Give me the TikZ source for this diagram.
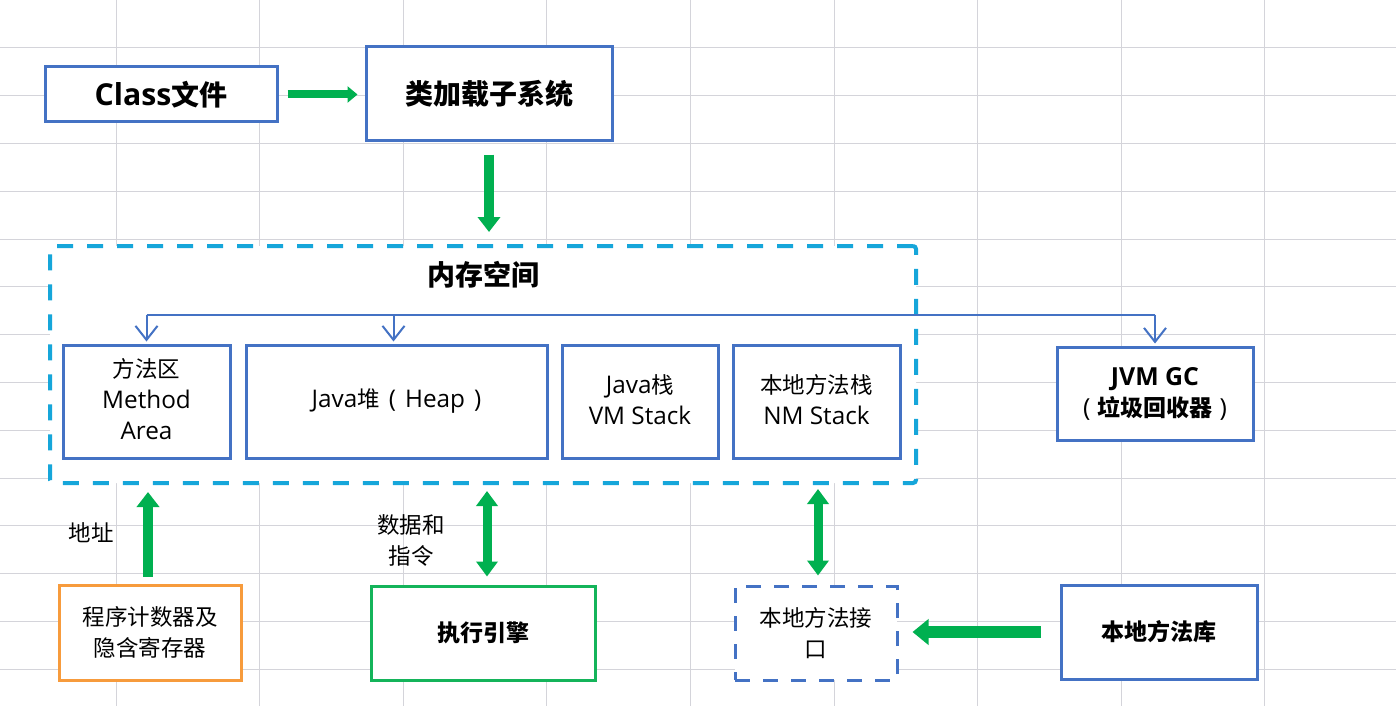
\documentclass[tikz,border=0pt]{standalone}
\usepackage{fontspec}
\setmainfont{Noto Sans CJK SC}
\newfontfamily\lat{Open Sans}[Scale=1.08]
\usetikzlibrary{arrows.meta,calc}
\definecolor{bxblue}{RGB}{68,114,196}
\definecolor{memcyan}{RGB}{22,166,218}
\definecolor{agreen}{RGB}{0,176,80}
\definecolor{bgreen}{RGB}{20,180,90}
\definecolor{orng}{RGB}{247,155,60}
\definecolor{gridc}{RGB}{212,212,218}
\begin{document}
\begin{tikzpicture}[x=1pt,y=-1pt,
  gridline/.style={draw=gridc, line width=1pt},
  box/.style={rectangle, draw=bxblue, line width=3pt, fill=white, inner sep=0pt, align=center},
  membox/.style={box, minimum height=113pt, font=\fontsize{22.5}{31}\selectfont},
  bigtxt/.style={font=\bfseries\fontsize{28}{32}\selectfont},
  midbold/.style={font=\bfseries\fontsize{23}{31}\selectfont},
  smalltxt/.style={font=\fontsize{22.5}{31}\selectfont},
  bus/.style={draw=bxblue, line width=2pt},
  busarrow/.style={bus, -{Straight Barb[length=14pt,width=22pt]}, shorten >=2pt},
  gthin/.style={draw=agreen, line width=8pt, -{Triangle[length=10pt,width=16pt]}},
  gmed/.style={draw=agreen, line width=10pt, -{Triangle[length=15pt,width=22pt]}},
  gdouble/.style={draw=agreen, line width=9pt, {Triangle[length=15pt,width=21pt]}-{Triangle[length=15pt,width=21pt]}},
  gthick/.style={draw=agreen, line width=12pt, -{Triangle[length=16pt,width=25pt]}},
  lbl/.style={inner sep=0pt, align=center, font=\fontsize{22.5}{31}\selectfont}
]
\useasboundingbox (0,0) rectangle (1396,706);
\fill[white] (0,0) rectangle (1396,706);
% spreadsheet grid
\foreach \i in {0,...,8} \draw[gridline] ({116+143.6*\i},0) -- ({116+143.6*\i},706);
\foreach \j in {1,...,14} \draw[gridline] (0,{47.8*\j}) -- (1396,{47.8*\j});

% top row
\node[box, minimum width=232pt, minimum height=55pt, bigtxt] (cls) at (161,94.5) {{\lat\bfseries Class}文件};
\node[box, minimum width=246pt, minimum height=93pt, bigtxt] (cl) at (489,93.5) {类加载子系统};

% memory space
\node[rectangle, draw=memcyan, line width=4pt, dash pattern=on 16pt off 14pt, fill=white,
      rounded corners=3pt, minimum width=866pt, minimum height=237pt, inner sep=0pt] (mem) at (483,364.5) {};
\node[font=\bfseries\fontsize{28}{32}\selectfont, inner sep=0pt] (title) at (483,275) {内存空间};

\node[membox, minimum width=167pt] (ma) at (146.5,401.5) {方法区\\{\lat Method}\\{\lat Area}\vspace{4pt}};
\node[membox, minimum width=301pt] (heap) at (396.5,401.5) {{\lat Java}堆\hspace{9pt}{\lat (}\hspace{9pt}{\lat Heap}\hspace{9pt}{\lat )}};
\node[membox, minimum width=156pt] (jst) at (640,401.5) {{\lat Java}栈\\{\lat VM Stack}\vspace{3pt}};
\node[membox, minimum width=167pt] (nst) at (816.5,401.5) {本地方法栈\\{\lat NM Stack}\vspace{3pt}};

\node[box, minimum width=196pt, minimum height=93pt, midbold] (gc) at (1155,393.5) {{\lat\bfseries JVM GC}\\{\lat\mdseries (}\hspace{7pt}垃圾回收器\hspace{7pt}{\lat\mdseries )}};

% bus connector
\draw[bus] ($(ma.north)+(0,-29)$) coordinate (bL) -- (bL -| gc.north) coordinate (bR);
\draw[busarrow] (bL) -- (ma.north);
\draw[busarrow] ($(bL -| heap.north)+(-3,0)$) -- ($(heap.north)+(-3,0)$);
\draw[busarrow] (bR) -- (gc.north);

% bottom row
\node[box, draw=orng, minimum width=182pt, minimum height=95pt, smalltxt] (pc) at (150,632.5) {程序计数器及\\隐含寄存器};
\node[box, draw=bgreen, minimum width=224pt, minimum height=94pt, midbold] (ee) at (483,633) {执行引擎};
\node[box, dash pattern=on 15pt off 13pt, minimum width=162pt, minimum height=94pt, smalltxt] (ni) at (816,633) {本地方法接\\口};
\node[box, minimum width=196pt, minimum height=94pt, midbold] (nl) at (1159,632) {本地方法库};

\node[lbl] (addr) at (91,533) {地址};
\node[lbl] (data) at (411,540) {数据和\\指令};

% green arrows
\draw[gthin, shorten <=9pt, shorten >=7pt] (cls.east) -- (cls.east -| cl.west);
\draw[gmed, shorten <=13pt, shorten >=12pt] (cl.south) -- (cl.south |- mem.north);
\draw[gmed, shorten <=7pt, shorten >=7pt] ($(pc.north)+(-2,0)$) -- ($(pc.north |- mem.south)+(-2,0)$);
\draw[gdouble, shorten <=8pt, shorten >=6pt] ($(ee.north)+(4,0)$) -- ($(ee.north |- mem.south)+(4,0)$);
\draw[gdouble, shorten <=9pt, shorten >=4pt] ($(ni.north)+(2,0)$) -- ($(ni.north |- mem.south)+(2,0)$);
\draw[gthick, shorten <=19pt, shorten >=14pt] (nl.west) -- (nl.west -| ni.east);
\end{tikzpicture}
\end{document}
